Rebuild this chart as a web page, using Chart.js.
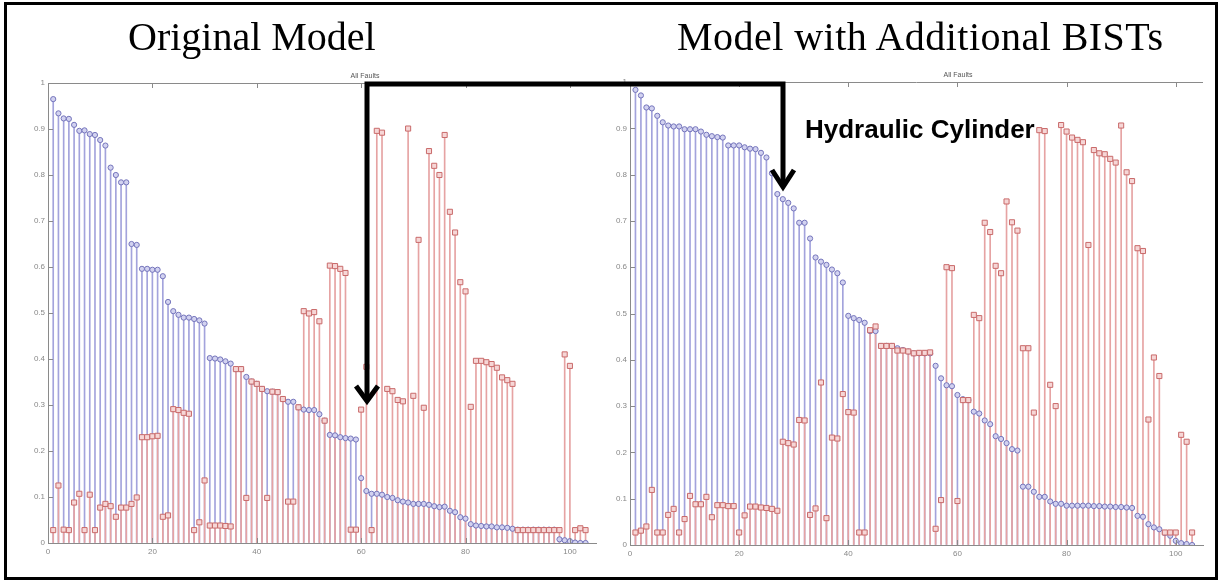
<!DOCTYPE html>
<html>
<head>
<meta charset="utf-8">
<script src="https://cdn.jsdelivr.net/npm/chart.js@4.4.1/dist/chart.umd.min.js"></script>
<style>
  body { margin: 0; background: #fff; }
  #page { position: relative; width: 1219px; height: 583px; overflow: hidden; background: #fff; }
  #frame { position: absolute; left: 4px; top: 2px; width: 1208px; height: 572px; border: 3px solid #000; }
  canvas { position: absolute; }
  #leftChart { left: 8px; top: 73px; }
  #rightChart { left: 590px; top: 72px; }
  #overlay { position: absolute; left: 0; top: 0; pointer-events: none; }
</style>
</head>
<body>
<div id="page">
  <div id="frame"></div>
  <canvas id="leftChart" width="593" height="492"></canvas>
  <canvas id="rightChart" width="618" height="495"></canvas>
  <svg id="overlay" width="1219" height="583">
    <text x="128" y="50" font-family="Liberation Serif" font-size="40" fill="#000">Original Model</text>
    <text x="677" y="50" font-family="Liberation Serif" font-size="40" fill="#000" textLength="486" lengthAdjust="spacing">Model with Additional BISTs</text>
    <text x="365" y="78" font-family="Liberation Sans" font-size="7" fill="#555" text-anchor="middle">All Faults</text>
    <text x="958" y="77" font-family="Liberation Sans" font-size="7" fill="#555" text-anchor="middle">All Faults</text>
    <text x="805" y="138" font-family="Liberation Sans" font-size="26" font-weight="bold" fill="#000">Hydraulic Cylinder</text>
    <!-- arrow from the original model to the new one -->
    <path d="M367,400 V84 H783 V186" fill="none" stroke="#000" stroke-width="5"/>
    <path d="M356,386 L367,401 L378,386" fill="none" stroke="#000" stroke-width="5"/>
    <path d="M772,170 L783,187 L794,170" fill="none" stroke="#000" stroke-width="5"/>
  </svg>
</div>
<script>
// fault scores, sorted by the blue series (index 1..103)
const leftBlue = [
  0.965,0.934,0.923,0.922,0.909,0.896,0.897,0.889,0.887,0.876,
  0.864,0.816,0.800,0.784,0.784,0.650,0.648,0.596,0.596,0.594,
  0.594,0.580,0.524,0.504,0.496,0.490,0.490,0.487,0.484,0.477,
  0.402,0.401,0.399,0.395,0.390,0.378,0.378,0.361,0.351,0.346,
  0.335,0.330,0.329,0.328,0.313,0.307,0.307,0.295,0.290,0.289,
  0.289,0.280,0.266,0.235,0.234,0.230,0.228,0.227,0.225,0.141,
  0.113,0.107,0.107,0.105,0.100,0.098,0.093,0.090,0.088,0.085,
  0.085,0.085,0.083,0.080,0.078,0.079,0.070,0.067,0.056,0.053,
  0.041,0.038,0.037,0.036,0.036,0.034,0.034,0.033,0.031,0.029,
  0.029,0.029,0.029,0.029,0.029,0.029,0.029,0.008,0.006,0.004,
  0.001,0,0
];
const leftRed = [
  0.028,0.125,0.029,0.028,0.088,0.107,0.028,0.105,0.028,0.077,
  0.085,0.080,0.057,0.077,0.077,0.085,0.099,0.230,0.230,0.232,
  0.233,0.057,0.060,0.291,0.289,0.283,0.281,0.028,0.045,0.136,
  0.038,0.038,0.038,0.037,0.036,0.378,0.378,0.098,0.351,0.346,
  0.335,0.098,0.329,0.328,0.313,0.090,0.090,0.295,0.504,0.499,
  0.502,0.482,0.266,0.603,0.602,0.596,0.587,0.029,0.029,0.290,
  0.383,0.028,0.896,0.892,0.335,0.330,0.311,0.308,0.901,0.320,
  0.659,0.294,0.852,0.820,0.800,0.887,0.720,0.675,0.567,0.547,
  0.296,0.396,0.396,0.393,0.389,0.381,0.360,0.354,0.346,0.028,
  0.028,0.028,0.028,0.028,0.028,0.028,0.028,0.028,0.410,0.385,
  0.028,0.032,0.028
];
const rightBlue = [
  0.983,0.971,0.945,0.943,0.927,0.913,0.906,0.904,0.904,0.898,
  0.898,0.898,0.893,0.886,0.883,0.881,0.880,0.863,0.863,0.863,
  0.859,0.856,0.855,0.847,0.837,0.803,0.758,0.747,0.739,0.727,
  0.696,0.696,0.662,0.621,0.612,0.605,0.595,0.587,0.567,0.495,
  0.490,0.486,0.480,0.462,0.462,0.430,0.430,0.430,0.425,0.421,
  0.418,0.414,0.414,0.414,0.414,0.387,0.360,0.345,0.343,0.324,
  0.315,0.313,0.288,0.284,0.269,0.261,0.235,0.229,0.220,0.207,
  0.204,0.126,0.126,0.115,0.104,0.104,0.094,0.089,0.089,0.085,
  0.085,0.085,0.085,0.085,0.084,0.084,0.083,0.083,0.082,0.082,
  0.081,0.080,0.063,0.061,0.045,0.038,0.034,0.026,0.020,0.009,
  0.004,0.002,0
];
const rightRed = [
  0.027,0.031,0.040,0.119,0.027,0.027,0.065,0.078,0.027,0.056,
  0.106,0.088,0.088,0.104,0.060,0.086,0.086,0.084,0.084,0.027,
  0.064,0.083,0.083,0.081,0.080,0.078,0.074,0.223,0.220,0.217,
  0.270,0.269,0.065,0.079,0.351,0.058,0.232,0.230,0.326,0.287,
  0.286,0.027,0.027,0.464,0.472,0.430,0.430,0.430,0.420,0.420,
  0.418,0.414,0.415,0.415,0.416,0.035,0.097,0.600,0.598,0.095,
  0.313,0.313,0.497,0.490,0.696,0.676,0.603,0.587,0.742,0.697,
  0.679,0.425,0.425,0.286,0.896,0.894,0.346,0.300,0.907,0.893,
  0.880,0.875,0.870,0.648,0.853,0.846,0.844,0.834,0.826,0.906,
  0.805,0.786,0.641,0.635,0.271,0.405,0.365,0.027,0.027,0.027,
  0.238,0.223,0.027
];
const faultIndex = Array.from({ length: 103 }, (_, i) => i + 1);
const xTicks = [0, 20, 40, 60, 80, 100];
const yTicks = [0, 0.1, 0.2, 0.3, 0.4, 0.5, 0.6, 0.7, 0.8, 0.9, 1];

function toPoints(values) {
  return values.map((v, i) => ({ x: faultIndex[i], y: v }));
}

// matlab style ticks pointing inward + top border
const insideTicks = {
  id: 'insideTicks',
  afterDraw(chart) {
    const { ctx, chartArea: a, scales: { x, y } } = chart;
    ctx.save();
    ctx.strokeStyle = '#8a8a8a';
    ctx.lineWidth = 1;
    ctx.beginPath();
    ctx.moveTo(a.left, a.top + 0.5);
    ctx.lineTo(a.right, a.top + 0.5);
    xTicks.forEach(t => {
      const px = Math.round(x.getPixelForValue(t)) + 0.5;
      ctx.moveTo(px, a.bottom); ctx.lineTo(px, a.bottom - 5);
      ctx.moveTo(px, a.top); ctx.lineTo(px, a.top + 5);
    });
    yTicks.forEach(t => {
      const py = Math.round(y.getPixelForValue(t)) + 0.5;
      ctx.moveTo(a.left, py); ctx.lineTo(a.left + 5, py);
    });
    ctx.stroke();
    ctx.restore();
  }
};

function makeStemChart(canvasId, blue, red) {
  const ctx = document.getElementById(canvasId).getContext('2d');
  return new Chart(ctx, {
    type: 'bar',
    data: {
      datasets: [
        { type: 'bar', data: toPoints(blue), backgroundColor: '#a3a3dc', barThickness: 1, grouped: false, order: 4 },
        { type: 'bar', data: toPoints(red), backgroundColor: '#e6a3a3', barThickness: 1, grouped: false, order: 3 },
        { type: 'line', data: toPoints(blue), showLine: false, pointStyle: 'circle', pointRadius: 2.6,
          pointBorderWidth: 1, pointBorderColor: '#7474bb', pointBackgroundColor: '#d2d2f0', order: 2 },
        { type: 'line', data: toPoints(red), showLine: false, pointStyle: 'rect', pointRadius: 3.6,
          pointBorderWidth: 1, pointBorderColor: '#c96a6a', pointBackgroundColor: '#f6d6d6', order: 1 }
      ]
    },
    options: {
      responsive: false,
      animation: false,
      devicePixelRatio: 1,
      layout: { padding: { top: 10, right: 0, left: 0, bottom: 0 } },
      plugins: { legend: { display: false }, tooltip: { enabled: false } },
      scales: {
        x: {
          type: 'linear', min: 0, max: 105, offset: false,
          grid: { drawOnChartArea: false, drawTicks: false },
          border: { color: '#8a8a8a' },
          afterFit(scale) { scale.height = 22; },
          afterBuildTicks(scale) { scale.ticks = xTicks.map(v => ({ value: v })); },
          ticks: { padding: 4, color: '#888', font: { family: 'Liberation Sans', size: 8 }, maxRotation: 0 }
        },
        y: {
          min: 0, max: 1,
          grid: { drawOnChartArea: false, drawTicks: false },
          border: { color: '#8a8a8a' },
          afterFit(scale) { scale.width = 40; },
          afterBuildTicks(scale) { scale.ticks = yTicks.map(v => ({ value: v })); },
          ticks: {
            padding: 3, color: '#888', font: { family: 'Liberation Sans', size: 8 },
            callback: v => (v === 0 || v === 1) ? String(v) : v.toFixed(1)
          }
        }
      }
    },
    plugins: [insideTicks]
  });
}

makeStemChart('leftChart', leftBlue, leftRed);
makeStemChart('rightChart', rightBlue, rightRed);
</script>
</body>
</html>
